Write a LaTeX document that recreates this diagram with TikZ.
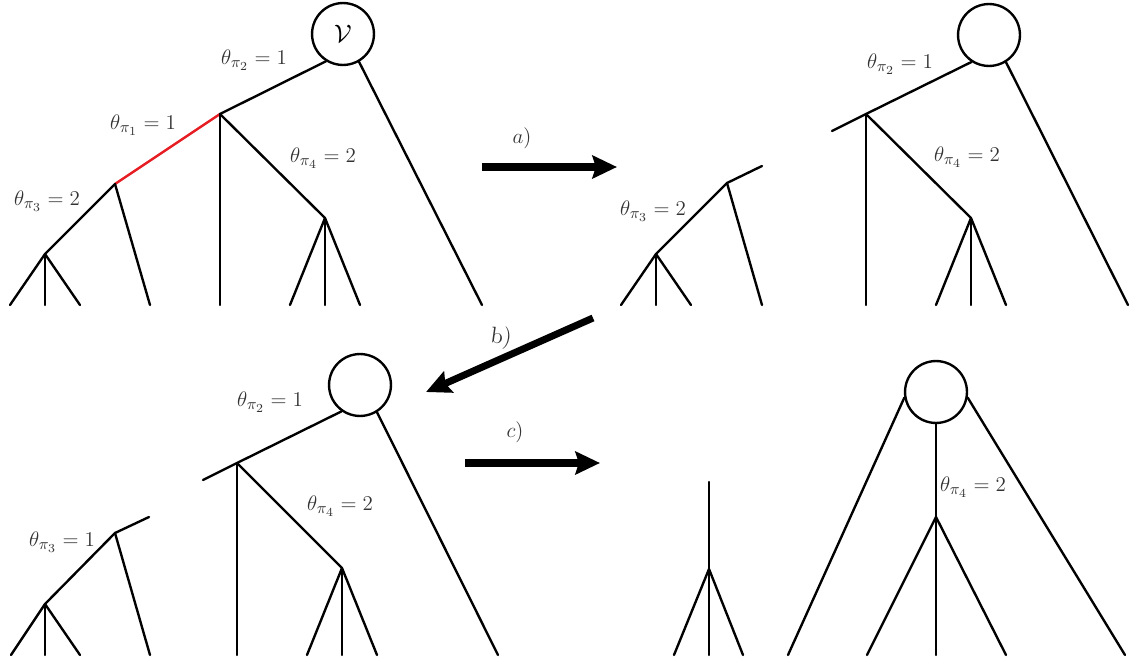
\documentclass[tikz,border=0pt]{standalone}
\usetikzlibrary{arrows.meta}
\DeclareMathSizes{13}{13}{9}{7}
\DeclareMathSizes{14}{14}{10}{7}
\begin{document}
\begin{tikzpicture}[x=0.57pt,y=-0.57pt,
  edge/.style={line width=1.35pt, line cap=round},
  redge/.style={edge, draw={rgb,255:red,230;green,30;blue,36}},
  root/.style={circle, draw, line width=1.35pt, minimum size=35.3pt, inner sep=0pt, font=\fontsize{14pt}{16pt}\selectfont},
  lab/.style={inner sep=1pt, text=black!80, font=\fontsize{13pt}{15pt}\selectfont},
  bigarrow/.style={line width=4pt, -{Stealth[length=14pt,width=13pt,inset=2pt]}}
]
\useasboundingbox (0,0) rectangle (1131,664);

% ---------- Panel 1 (top-left) ----------
\node[root] (V1) at (343,34) {$\mathcal{V}$};
\coordinate (A1) at (220,114);
\coordinate (A2) at (115,184);
\coordinate (A3) at (325,218);
\coordinate (A4) at (45,254);
\coordinate (A5) at (482,305);
\coordinate (A6) at (220,305);
\coordinate (A7) at (150,305);
\coordinate (A8) at (10,305);
\coordinate (A9) at (45,305);
\coordinate (A10) at (80,305);
\coordinate (A11) at (290,305);
\coordinate (A12) at (325,305);
\coordinate (A13) at (360,305);
\draw[edge] (V1.238) -- (A1);
\draw[edge] (V1.300) -- (A5);
\draw[redge] (A1) -- (A2);
\draw[edge] (A1) -- (A6);
\draw[edge] (A1) -- (A3);
\draw[edge] (A2) -- (A4);
\draw[edge] (A2) -- (A7);
\draw[edge] (A4) -- (A8);
\draw[edge] (A4) -- (A9);
\draw[edge] (A4) -- (A10);
\draw[edge] (A3) -- (A11);
\draw[edge] (A3) -- (A12);
\draw[edge] (A3) -- (A13);
\node[lab] (L1a) at (254,60) {$\theta_{\pi_2}=1$};
\node[lab] (L1b) at (143,125) {$\theta_{\pi_1}=1$};
\node[lab] (L1c) at (47,201) {$\theta_{\pi_3}=2$};
\node[lab] (L1d) at (323,158) {$\theta_{\pi_4}=2$};

% ---------- Arrow a ----------
\coordinate (aS) at (482,167);
\coordinate (aE) at (617,167);
\draw[bigarrow] (aS) -- (aE);
\node[lab] (La) at (522,138) {$a)$};

% ---------- Panel 2 (top-right) ----------
% fragment
\coordinate (B0) at (762,166);
\coordinate (B1) at (727,183);
\coordinate (B2) at (656,254);
\coordinate (B3) at (762,305);
\coordinate (B4) at (621,305);
\coordinate (B5) at (656,305);
\coordinate (B6) at (691,305);
\draw[edge] (B0) -- (B1);
\draw[edge] (B1) -- (B2);
\draw[edge] (B1) -- (B3);
\draw[edge] (B2) -- (B4);
\draw[edge] (B2) -- (B5);
\draw[edge] (B2) -- (B6);
\node[lab] (L2c) at (653,211) {$\theta_{\pi_3}=2$};
% tree
\node[root] (V2) at (989,35) {};
\coordinate (C0) at (832,131);
\coordinate (C1) at (866,114);
\coordinate (C2) at (971,218);
\coordinate (C3) at (1128,305);
\coordinate (C4) at (866,305);
\coordinate (C5) at (936,305);
\coordinate (C6) at (971,305);
\coordinate (C7) at (1006,305);
\draw[edge] (V2.237) -- (C1) -- (C0);
\draw[edge] (V2.302) -- (C3);
\draw[edge] (C1) -- (C4);
\draw[edge] (C1) -- (C2);
\draw[edge] (C2) -- (C5);
\draw[edge] (C2) -- (C6);
\draw[edge] (C2) -- (C7);
\node[lab] (L2a) at (900,64) {$\theta_{\pi_2}=1$};
\node[lab] (L2d) at (967,157) {$\theta_{\pi_4}=2$};

% ---------- Arrow b ----------
\coordinate (bS) at (593,318);
\coordinate (bE) at (426,392);
\draw[bigarrow] (bS) -- (bE);
\node[lab, rotate=-8] (Lb) at (501,338) {b)};

% ---------- Panel 3 (bottom-left) ----------
\node[root] (V3) at (360,385) {};
\coordinate (D0) at (203,480);
\coordinate (D1) at (237,463);
\coordinate (D2) at (342,568);
\coordinate (D3) at (498,655);
\coordinate (D4) at (237,655);
\coordinate (D5) at (307,655);
\coordinate (D6) at (342,655);
\coordinate (D7) at (377,655);
\draw[edge] (V3.235) -- (D1) -- (D0);
\draw[edge] (V3.302) -- (D3);
\draw[edge] (D1) -- (D4);
\draw[edge] (D1) -- (D2);
\draw[edge] (D2) -- (D5);
\draw[edge] (D2) -- (D6);
\draw[edge] (D2) -- (D7);
\node[lab] (L3a) at (270,402) {$\theta_{\pi_2}=1$};
\node[lab] (L3d) at (340,506) {$\theta_{\pi_4}=2$};
% fragment
\coordinate (E0) at (149,517);
\coordinate (E1) at (115,533);
\coordinate (E2) at (45,604);
\coordinate (E3) at (150,655);
\coordinate (E4) at (11,655);
\coordinate (E5) at (45,655);
\coordinate (E6) at (80,655);
\draw[edge] (E0) -- (E1);
\draw[edge] (E1) -- (E2);
\draw[edge] (E1) -- (E3);
\draw[edge] (E2) -- (E4);
\draw[edge] (E2) -- (E5);
\draw[edge] (E2) -- (E6);
\node[lab] (L3c) at (62,542) {$\theta_{\pi_3}=1$};

% ---------- Arrow c ----------
\coordinate (cS) at (465,463);
\coordinate (cE) at (600,463);
\draw[bigarrow] (cS) -- (cE);
\node[lab] (Lc) at (515,432) {$c)$};

% ---------- Panel 4 (bottom-right) ----------
\coordinate (F0) at (709,482);
\coordinate (F1) at (709,569);
\coordinate (F2) at (674,655);
\coordinate (F3) at (709,655);
\coordinate (F4) at (743,655);
\draw[edge] (F0) -- (F1);
\draw[edge] (F1) -- (F2);
\draw[edge] (F1) -- (F3);
\draw[edge] (F1) -- (F4);
\node[root] (V4) at (936,392) {};
\coordinate (G1) at (936,517);
\coordinate (G2) at (788,655);
\coordinate (G3) at (1125,655);
\coordinate (G4) at (867,655);
\coordinate (G5) at (936,655);
\coordinate (G6) at (1006,655);
\draw[edge] (V4.190) -- (G2);
\draw[edge] (V4.350) -- (G3);
\draw[edge] (V4.south) -- (G1);
\draw[edge] (G1) -- (G4);
\draw[edge] (G1) -- (G5);
\draw[edge] (G1) -- (G6);
\node[lab] (L4d) at (973,487) {$\theta_{\pi_4}=2$};
\end{tikzpicture}
\end{document}
